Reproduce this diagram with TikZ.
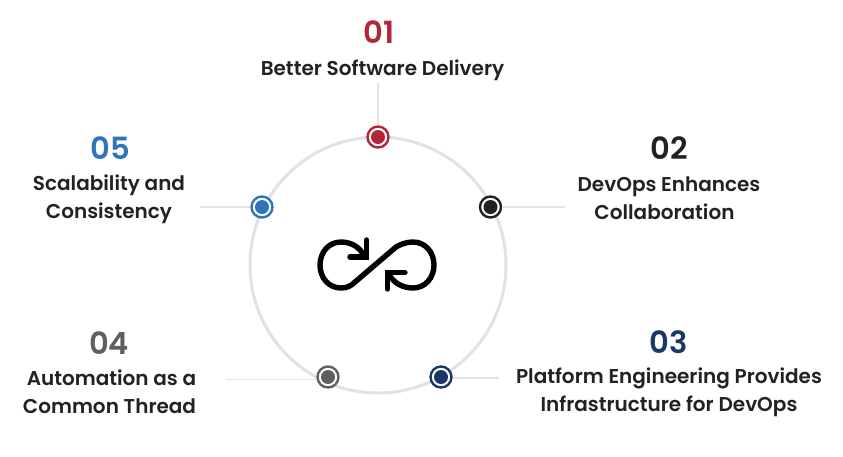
\documentclass[tikz,border=0pt]{standalone}
\usepackage{fontspec}
\setmainfont{Poppins}[UprightFont=* Medium,BoldFont=* SemiBold]
\definecolor{cred}{HTML}{B3263A}
\definecolor{cblack}{HTML}{222222}
\definecolor{cnavy}{HTML}{1B3768}
\definecolor{cgrey}{HTML}{5F5F5F}
\definecolor{cblue}{HTML}{2F75B8}
\definecolor{cline}{HTML}{E2E2E2}
\tikzset{
  dotnode/.style={circle,draw=#1,line width=2.4pt,fill=white,minimum size=21pt,inner sep=0pt,
    path picture={\fill[#1] (path picture bounding box.center) circle (7pt);}},
  numlabel/.style={font=\fontsize{30.6}{30}\selectfont\bfseries,text=#1,inner sep=0pt,anchor=center},
  textlabel/.style={font=\fontsize{20}{28.2}\selectfont\bfseries,text=cblack,align=center,inner sep=0pt,anchor=center},
  leader/.style={draw=cline,line width=1.6pt},
  iconline/.style={draw=black,line width=5.4pt,line cap=round,line join=miter}
}
\begin{document}
\begin{tikzpicture}[x=1pt,y=-1pt]
\useasboundingbox (0,0) rectangle (843,456);
\fill[white] (0,0) rectangle (843,456);
\node[circle,draw=cline,line width=3pt,minimum size=256pt,inner sep=0pt] (ring) at (378,265) {};
\coordinate (e1) at (378,83);
\coordinate (e2) at (565,207);
\coordinate (e3) at (499,378);
\coordinate (e4) at (226,379.5);
\coordinate (e5) at (200,207);
\node[dotnode=cred] (d1) at (378,137) {};
\node[dotnode=cblack] (d2) at (490.5,207) {};
\node[dotnode=cnavy] (d3) at (441,377) {};
\node[dotnode=cgrey] (d4) at (328,377) {};
\node[dotnode=cblue] (d5) at (262,207) {};
\draw[leader] (e1) -- (d1);
\draw[leader] (d2) -- (e2);
\draw[leader] (e3 -| d3.east) -- (e3);
\draw[leader] (e4) -- (e4 -| d4.west);
\draw[leader] (e5) -- (d5);
\node[numlabel=cred] (n1) at (379,32) {01};
\node[textlabel] (t1) at (382.5,70) {Better Software Delivery};
\node[numlabel=cblack] (n2) at (669,148) {02};
\node[textlabel] (t2) at (669,198.5) {DevOps Enhances\\Collaboration\hspace*{9pt}};
\node[numlabel=cnavy] (n3) at (669,342) {03};
\node[textlabel] (t3) at (669,392.5) {Platform Engineering Provides\\Infrastructure for DevOps};
\node[numlabel=cgrey] (n4) at (109,343) {04};
\node[textlabel] (t4) at (109.5,392) {\hspace*{4pt}Automation as a\\Common Thread};
\node[numlabel=cblue] (n5) at (110,148) {05};
\node[textlabel] (t5) at (109,199.5) {Scalability and\\Consistency};
\draw[iconline] (364,256) .. controls (360,247) and (351,242) .. (341,242)
  .. controls (329,242) and (320,252) .. (320,265)
  .. controls (320,278) and (329,288) .. (341,288)
  .. controls (347,288) and (351,286) .. (355,282)
  -- (396,247)
  .. controls (401,244) and (407,242) .. (413,242)
  .. controls (425,242) and (434,252) .. (434,265)
  .. controls (434,278) and (425,288) .. (413,288)
  .. controls (403,288) and (393,283) .. (389,274);
\draw[iconline] (366.5,240) -- (366.5,257) -- (350,257);
\draw[iconline] (387.5,289) -- (387.5,272.5) -- (405,272.5);
\end{tikzpicture}
\end{document}
